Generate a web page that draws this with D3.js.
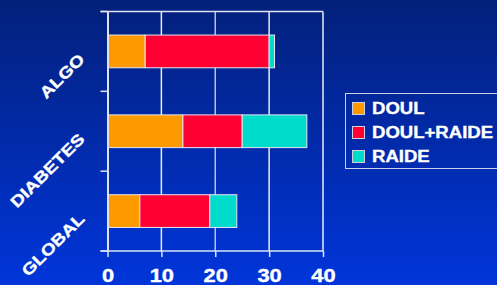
<!DOCTYPE html>
<html>
<head>
<meta charset="utf-8">
<script src="https://cdn.jsdelivr.net/npm/d3@7"></script>
<style>
  body { margin: 0; overflow: hidden; }
  text { font-family: Arial, "Liberation Sans", sans-serif; font-weight: bold; fill: #fff; stroke: #fff; stroke-width: 0.35px; }
</style>
</head>
<body>
<div id="chart"></div>
<script>
const categories = ['ALGO', 'DIABETES', 'GLOBAL'];
const seriesNames = ['DOUL', 'DOUL+RAIDE', 'RAIDE'];
const doul = [7, 14, 6];
const doulRaide = [23, 11, 13];
const raide = [1, 12, 5];
const xTicks = [0, 10, 20, 30, 40];
const colors = ['#ff9900', '#ff0033', '#00dccc'];

const margin = { top: 11.5, left: 107.5, bottom: 34, right: 174 };
const fullWidth = 497, fullHeight = 285;
const width = fullWidth - margin.left - margin.right;
const height = fullHeight - margin.top - margin.bottom;

const rows = categories.map((c, i) => ({ cat: c, DOUL: doul[i], 'DOUL+RAIDE': doulRaide[i], RAIDE: raide[i] }));
const stacked = d3.stack().keys(seriesNames)(rows);

const root = d3.select('#chart').append('svg')
    .attr('width', fullWidth)
    .attr('height', fullHeight);

const grad = root.append('defs').append('linearGradient')
    .attr('id', 'bg').attr('x1', 0).attr('y1', 0).attr('x2', 0).attr('y2', 1);
grad.append('stop').attr('offset', '0%').attr('stop-color', '#03207a');
grad.append('stop').attr('offset', '100%').attr('stop-color', '#0035da');
root.append('rect').attr('width', fullWidth).attr('height', fullHeight).attr('fill', 'url(#bg)');

const svg = root.append('g')
    .attr('transform', `translate(${margin.left}, ${margin.top})`);

const xScale = d3.scaleLinear().domain([0, 40]).range([0, width]);
const yScale = d3.scaleBand().domain(categories).range([0, height]).paddingInner(0.59).paddingOuter(0.295);
const bandScale = d3.scaleBand().domain(categories).range([0, height]);

// gridlines
svg.selectAll('.grid')
    .data(xTicks.slice(1))
    .enter().append('line')
        .attr('x1', d => xScale(d)).attr('x2', d => xScale(d))
        .attr('y1', 0).attr('y2', height)
        .attr('stroke', d => d === 20 ? '#b8c0dc' : '#e8ecf6')
        .attr('stroke-width', 1.5);

// top border
svg.append('line')
    .attr('x1', -7).attr('x2', width).attr('y1', 0).attr('y2', 0)
    .attr('stroke', '#dde3f3').attr('stroke-width', 1.5);

// bars
svg.selectAll('.series')
    .data(stacked)
    .enter().append('g')
        .attr('fill', (d, i) => colors[i])
    .selectAll('rect')
    .data(d => d)
    .enter().append('rect')
        .attr('x', d => xScale(d[0]))
        .attr('y', d => yScale(d.data.cat))
        .attr('width', d => xScale(d[1]) - xScale(d[0]))
        .attr('height', yScale.bandwidth())
        .attr('stroke', '#e6e6f0')
        .attr('stroke-width', 1);

// y axis
const yAxis = d3.axisLeft(bandScale).tickSize(0).tickFormat('');
const yg = svg.append('g').call(yAxis);
yg.select('.domain').attr('stroke', '#dde3f3').attr('stroke-width', 2);
yg.selectAll('.ytick')
    .data(d3.range(categories.length + 1))
    .enter().append('line')
        .attr('x1', -7).attr('x2', 0)
        .attr('y1', d => d * bandScale.step()).attr('y2', d => d * bandScale.step())
        .attr('stroke', '#dde3f3').attr('stroke-width', 1.5);
yg.selectAll('.ylab')
    .data(categories)
    .enter().append('text')
        .attr('text-anchor', 'end')
        .attr('font-size', 16)
        .attr('transform', d => `translate(-22, ${bandScale(d) + bandScale.bandwidth() / 2 + 9}) rotate(-45) scale(1.2,1)`)
        .text(d => d);

// x axis
const xAxis = d3.axisBottom(xScale).tickValues(xTicks).tickSize(6).tickPadding(8);
const xg = svg.append('g')
    .attr('transform', `translate(0, ${height})`)
    .call(xAxis);
xg.select('.domain').attr('stroke', '#dde3f3').attr('stroke-width', 1.5).attr('d', `M-7,0H${width}`);
xg.selectAll('line').attr('stroke', '#dde3f3').attr('stroke-width', 1.5);
xg.selectAll('text')
    .attr('font-size', 17.5)
    .attr('dy', '0.71em')
    .attr('transform', 'translate(0, 5) scale(1.25,1)')
    .style('fill', '#fff');

// legend
const legend = root.append('g').attr('transform', 'translate(345.5, 93.5)');
legend.append('rect')
    .attr('width', 152).attr('height', 75)
    .attr('fill', 'none').attr('stroke', '#c8d0ea').attr('stroke-width', 1);
const item = legend.selectAll('.item')
    .data(seriesNames)
    .enter().append('g')
        .attr('transform', (d, i) => `translate(7, ${15 + i * 24})`);
item.append('rect')
    .attr('y', -6).attr('width', 12).attr('height', 12)
    .attr('fill', (d, i) => colors[i])
    .attr('stroke', '#d0d0e0').attr('stroke-width', 1);
item.append('text')
    .attr('dy', '0.36em')
    .attr('font-size', 16)
    .attr('transform', 'translate(19.5, 0) scale(1.16,1)')
    .text(d => d);
</script>
</body>
</html>
